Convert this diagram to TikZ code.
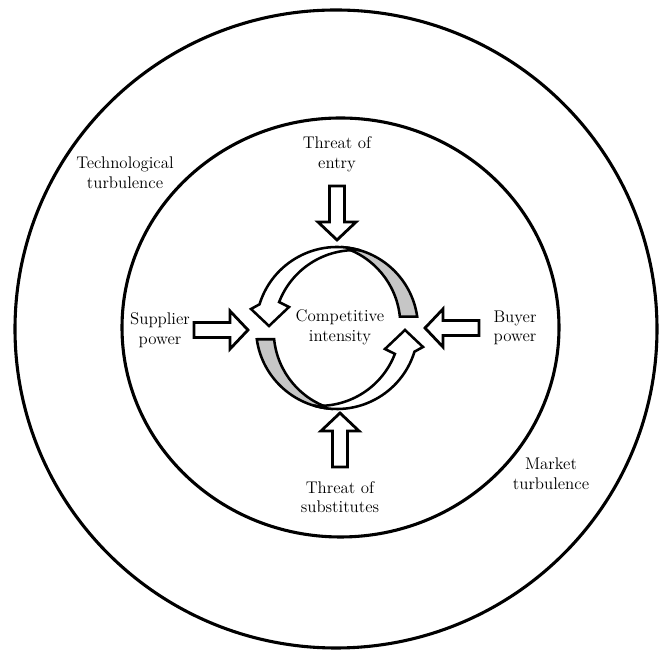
\documentclass[tikz,border=0pt]{standalone}
\usepackage{tikz}
\usetikzlibrary{positioning}
\tikzset{
  border/.style={line width=2.2pt},
  txt/.style={align=center, font=\large, inner sep=1pt},
  backface/.style={draw, line width=1.8pt, fill=gray!45},
  frontface/.style={draw, line width=1.8pt, fill=white},
  fatarrow/.pic={
    \draw[line width=2pt, fill=white] (0,0) -- (-18,19) -- (-18,7.5) -- (-54,7.5)
      -- (-54,-7.5) -- (-18,-7.5) -- (-18,-19) -- cycle;
  },
}

\begin{document}
\begin{tikzpicture}[x=0.025cm, y=0.025cm]
  \useasboundingbox (0,0) rectangle (659,650);

  \draw[border] (336,321) ellipse [x radius=321, y radius=319];
  \draw[border] (340.5,322.5) ellipse [x radius=218.5, y radius=209.5];

  \begin{scope}[shift={(337,322)}]
    \foreach \turn in {0,180} {
      \begin{scope}[rotate=\turn]
        \filldraw[backface] (86.38:81) arc[start angle=86.38, end angle=8, radius=81]
          -- (62.86,11.27) arc[start angle=5.77, end angle=73.62, radius=81] -- cycle;
      \end{scope}
    }
    \foreach \turn in {0,180} {
      \begin{scope}[rotate=\turn]
        \filldraw[frontface] (73.62:81) arc[start angle=73.62, end angle=163, radius=81]
          -- (-86,19) -- (-68,2) -- (-48,21)
          -- (-57.89,25.9) arc[start angle=159, end angle=86.38, radius=81] -- cycle;
      \end{scope}
    }
  \end{scope}

  \pic (entry)    at (337,410) [rotate=-90] {fatarrow};
  \pic (subst)    at (340,237) [rotate=90]  {fatarrow};
  \pic (supplier) at (248,320)              {fatarrow};
  \pic (buyer)    at (425,322) [rotate=180] {fatarrow};

  \node[txt] (tech)   at (125,477) {Technological\\turbulence};
  \node[txt] (market) at (551,176) {Market\\turbulence};
  \node[txt] (threat) at (337,496) {Threat of\\entry};
  \node[txt] (subs)   at (340,153) {Threat of\\substitutes};
  \node[txt] (supp)   at (160,320) {Supplier\\power};
  \node[txt] (buyer)  at (515,322) {Buyer\\power};
  \node[txt] (rival)  at (340,323) {Competitive\\intensity};
\end{tikzpicture}
\end{document}
